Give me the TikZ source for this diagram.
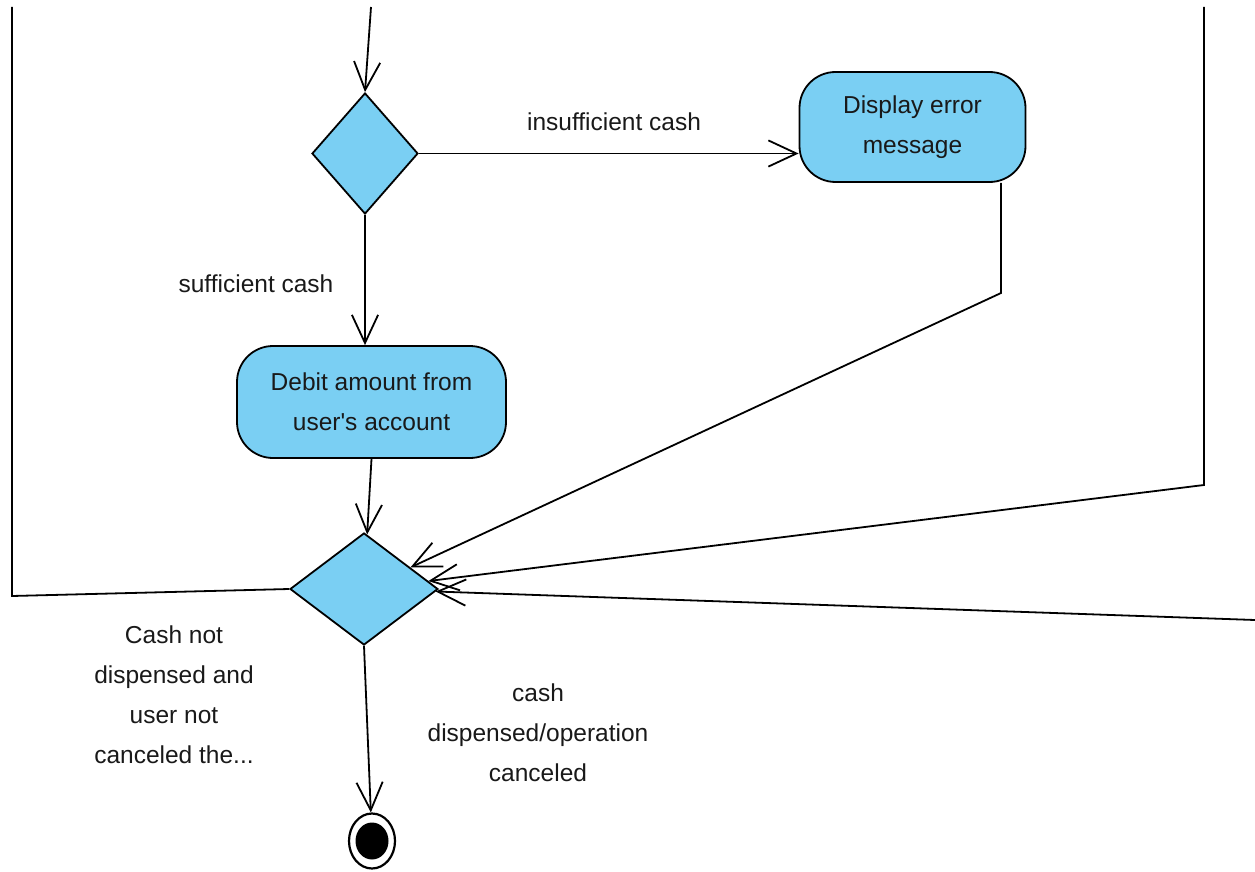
\documentclass[tikz,border=0pt]{standalone}
\usepackage{fontspec}
\setmainfont{Liberation Sans}
\usetikzlibrary{arrows.meta,shapes.geometric}
\definecolor{actfill}{RGB}{122,207,243}
\definecolor{inktext}{RGB}{25,25,25}
\begin{document}
\begin{tikzpicture}[x=1pt,y=-1pt,
  every node/.style={font=\fontsize{24.5}{40}\selectfont, text=inktext},
  activity/.style={draw=black, line width=1.8pt, fill=actfill,
    rounded corners=36pt, align=center, inner sep=0pt},
  decision/.style={diamond, draw=black, line width=1.8pt, fill=actfill,
    inner sep=0pt},
  flow/.style={draw=black, line width=1.8pt,
    -{Straight Barb[angle=50:31pt, line width=1.8pt]}},
  plain/.style={draw=black, line width=1.8pt},
  guard/.style={align=center}]

\useasboundingbox (0,0) rectangle (1255,872);

% actions and decisions
\node[decision, minimum width=106pt, minimum height=121pt] (d1) at (365,153.5) {};
\node[activity, minimum width=226pt, minimum height=110pt] (disp) at (912.5,127)
  {Display error\\message};
\node[activity, minimum width=269pt, minimum height=112pt] (debit) at (371.5,402)
  {Debit amount from\\user\textquotesingle s account};
\node[decision, minimum width=148pt, minimum height=112pt] (d2) at (364,589) {};

% final node
\node[ellipse, draw=black, line width=2.2pt, fill=white, inner sep=0pt,
  minimum width=46pt, minimum height=55pt] (fin) at (372,841) {};
\node[ellipse, fill=black, inner sep=0pt,
  minimum width=33pt, minimum height=37pt] (finDot) at (fin.center) {};

% route points
\coordinate (entry) at (371,7);
\coordinate (dispBend) at (1001,293);
\coordinate (loopTop) at (1204,7);
\coordinate (loopBend) at (1204,485);
\coordinate (sideIn) at (1255,620);
\coordinate (backBend) at (12,596);
\coordinate (backTop) at (12,7);

% flows
\draw[flow] (entry) -- (d1.north);
\draw[flow] (d1.east) -- (d1.east -| disp.west);
\draw[flow] (d1.south) -- (d1.south |- debit.north);
\draw[flow] (debit.south) -- (d2);
\draw[flow] (dispBend |- disp.south) -- (dispBend) -- (d2);
\draw[flow] (loopTop) -- (loopBend) -- (d2);
\draw[flow] (sideIn) -- (d2);
\draw[plain] (d2.west) -- (backBend) -- (backTop);
\draw[flow] (d2.south) -- (fin);

% guards
\node[guard] (lblInsuf) at (614,122) {insufficient cash};
\node[guard] (lblSuff) at (256,284) {sufficient cash};
\node[guard] (lblLoop) at (174,695) {Cash not\\dispensed and\\user not\\canceled the...};
\node[guard] (lblDone) at (538,733) {cash\\dispensed/operation\\canceled};
\end{tikzpicture}
\end{document}
